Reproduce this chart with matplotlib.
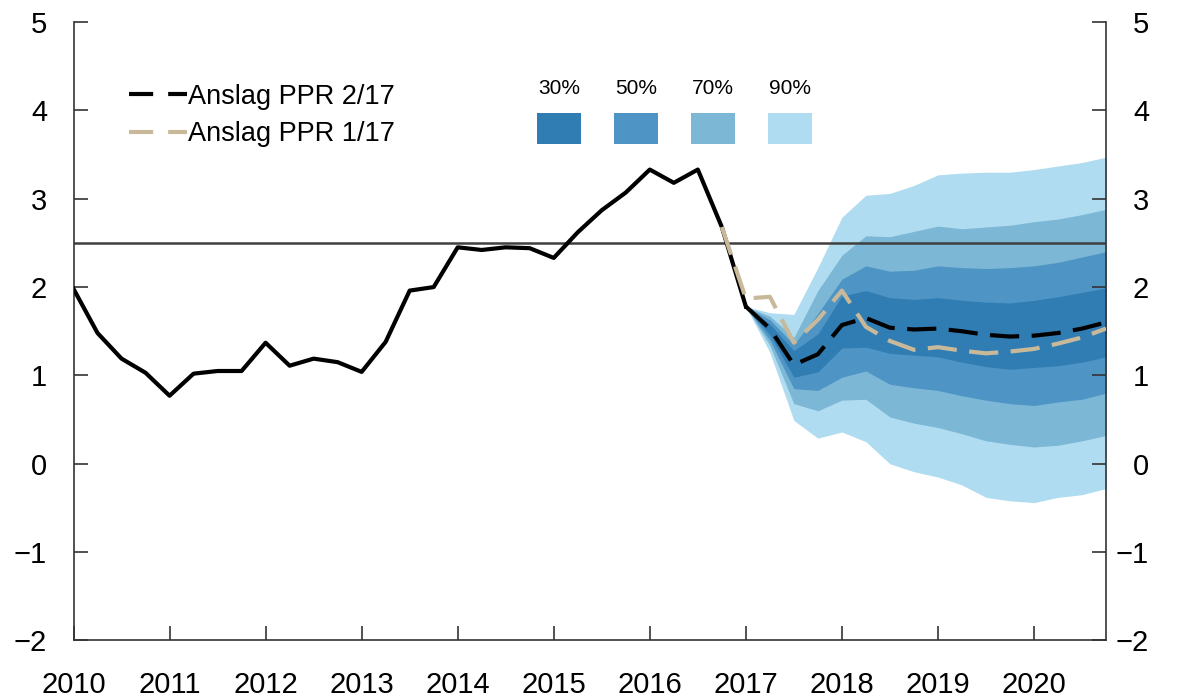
import matplotlib
matplotlib.use("Agg")
import matplotlib.pyplot as plt
import matplotlib.transforms as mtrans
from matplotlib.lines import Line2D
from matplotlib.patches import Rectangle
import numpy as np

plt.rcParams['font.family'] = ['Liberation Sans', 'DejaVu Sans']

# quarterly history, 2010 Q1 .. 2017 Q1
hist_x = np.arange(2010.0, 2017.01, 0.25)
hist_y = [1.98, 1.48, 1.19, 1.03, 0.77, 1.02, 1.05, 1.05, 1.37, 1.11, 1.19, 1.15,
          1.04, 1.38, 1.96, 2.00, 2.45, 2.42, 2.45, 2.44, 2.33, 2.62, 2.87, 3.07,
          3.33, 3.18, 3.33, 2.68, 1.78]

# forecast PPR 2/17, 2017 Q1 .. 2020 Q4
fc_x = np.arange(2017.0, 2020.76, 0.25)
ppr2 = [1.78, 1.53, 1.12, 1.24, 1.57, 1.65, 1.54, 1.52, 1.53, 1.50, 1.46, 1.44,
        1.45, 1.48, 1.53, 1.60]

# forecast PPR 1/17, 2016 Q4 .. 2020 Q4
ppr1_x = np.arange(2016.75, 2020.76, 0.25)
ppr1 = [2.68, 1.87, 1.89, 1.37, 1.63, 1.96, 1.55, 1.39, 1.29, 1.32, 1.28, 1.25,
        1.27, 1.30, 1.36, 1.43, 1.53]

# fan bands (upper, lower)
up90 = [1.78, 1.71, 1.69, 2.22, 2.79, 3.04, 3.06, 3.15, 3.27, 3.29, 3.30, 3.30, 3.33, 3.37, 3.41, 3.47]
up70 = [1.78, 1.67, 1.43, 1.96, 2.36, 2.58, 2.57, 2.63, 2.69, 2.66, 2.68, 2.70, 2.74, 2.77, 2.82, 2.88]
up50 = [1.78, 1.63, 1.35, 1.70, 2.09, 2.24, 2.18, 2.19, 2.24, 2.22, 2.21, 2.22, 2.24, 2.28, 2.34, 2.40]
up30 = [1.78, 1.58, 1.28, 1.47, 1.90, 1.96, 1.88, 1.86, 1.88, 1.85, 1.83, 1.82, 1.85, 1.89, 1.94, 1.99]
lo30 = [1.78, 1.46, 0.98, 1.04, 1.31, 1.32, 1.25, 1.23, 1.21, 1.15, 1.10, 1.07, 1.09, 1.11, 1.15, 1.21]
lo50 = [1.78, 1.40, 0.85, 0.83, 0.98, 1.05, 0.90, 0.86, 0.83, 0.77, 0.72, 0.68, 0.66, 0.70, 0.73, 0.80]
lo70 = [1.78, 1.34, 0.68, 0.60, 0.72, 0.73, 0.53, 0.46, 0.41, 0.34, 0.26, 0.22, 0.19, 0.21, 0.26, 0.32]
lo90 = [1.78, 1.26, 0.49, 0.29, 0.36, 0.25, 0.00, -0.09, -0.15, -0.24, -0.38, -0.42, -0.44, -0.38, -0.35, -0.28]

band_labels = ['30%', '50%', '70%', '90%']
band_colors = ['#307db4', '#4e94c4', '#7cb7d6', '#afdcf0']
target = 2.5

years = list(range(2010, 2021))
yticks = list(range(-2, 6))

fig = plt.figure(figsize=(11.78, 6.97), dpi=100)
ax = fig.add_axes([0.0624, 0.0811, 0.8765, 0.8873])

bands = [(up30, lo30), (up50, lo50), (up70, lo70), (up90, lo90)]
for (u, l), c in reversed(list(zip(bands, band_colors))):
    ax.fill_between(fc_x, l, u, color=c, lw=0, zorder=1)

ax.axhline(target, color='#404040', lw=1.8, zorder=2)

ax.plot(hist_x, hist_y, color='black', lw=3, zorder=3)
ax.plot(ppr1_x, ppr1, color='#c8b99a', lw=3, dashes=(7, 3), zorder=4)
ax.plot(fc_x, ppr2, color='black', lw=3, dashes=(7, 3), zorder=5)

ax.set_xlim(2010, 2020.75)
ax.set_ylim(-2, 5)
ax.set_xticks(years)
ax.set_xticklabels([str(y) for y in years])
ax.set_yticks(yticks)

ax.spines['top'].set_visible(False)
for s in ['left', 'right', 'bottom']:
    ax.spines[s].set_linewidth(1.2)
    ax.spines[s].set_color('#333333')

ax.tick_params(axis='x', direction='in', length=10, width=1.2, pad=22,
               labelsize=21, color='#333333')
ax.tick_params(axis='y', direction='in', length=10, width=1.2, pad=19,
               labelsize=21, color='#333333', right=True, labelright=True)

# right-hand labels are right aligned, ending ~43 px from the spine
offset = mtrans.ScaledTranslation((43 - 26.4) / 100, 0, fig.dpi_scale_trans)
for t in ax.yaxis.get_major_ticks():
    t.label2.set_horizontalalignment('right')
    t.label2.set_transform(t.label2.get_transform() + offset)

handles = [Line2D([], [], color='black', lw=3, dashes=(5.8, 3.6)),
           Line2D([], [], color='#c8b99a', lw=3, dashes=(5.8, 3.6))]
ax.legend(handles, ['Anslag PPR 2/17', 'Anslag PPR 1/17'], loc='upper left',
          bbox_to_anchor=(0.035, 0.931), frameon=False, fontsize=19.5,
          handlelength=2.15, handletextpad=0.05, labelspacing=0.42,
          borderaxespad=0.3)

sq_w, sq_h = 0.0426, 0.050
for i, (lab, c) in enumerate(zip(band_labels, band_colors)):
    x0 = 0.449 + i * 0.0746
    ax.add_patch(Rectangle((x0, 0.803), sq_w, sq_h, transform=ax.transAxes,
                           color=c, lw=0, zorder=6))
    ax.text(x0 + sq_w / 2, 0.893, lab, transform=ax.transAxes, ha='center',
            va='center', fontsize=15)

fig.savefig('out.png', dpi=100)
